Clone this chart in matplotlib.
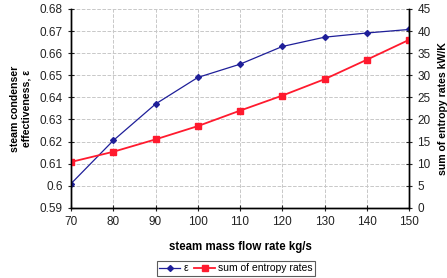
import matplotlib
matplotlib.use("Agg")
import matplotlib.pyplot as plt

plt.rcParams['font.family'] = ['Liberation Sans', 'DejaVu Sans']

# dane
flow = [70, 80, 90, 100, 110, 120, 130, 140, 150]
eff = [0.601, 0.6205, 0.637, 0.649, 0.655, 0.663, 0.6672, 0.6691, 0.6707]
entropy = [10.4, 12.7, 15.5, 18.5, 22.0, 25.4, 29.1, 33.5, 38.0]

fig = plt.figure(figsize=(4.47, 2.78), dpi=100)
ax = fig.add_axes([0.159, 0.252, 0.756, 0.716])
ax2 = ax.twinx()

l1, = ax.plot(flow, eff, color='#1f1f99', marker='D', markersize=3, lw=0.9, label='ε')
l2, = ax2.plot(flow, entropy, color='#ff1a2e', marker='s', markersize=5, lw=1.3,
               label='sum of entropy rates')

ax.set_xlim(70, 150)
ax.set_ylim(0.59, 0.68)
ax2.set_ylim(0, 45)
ax.set_xticks(range(70, 151, 10))
ax.set_yticks([0.59 + 0.01 * i for i in range(10)])
ax.set_yticklabels(['0.59', '0.6', '0.61', '0.62', '0.63', '0.64', '0.65', '0.66', '0.67', '0.68'])
ax2.set_yticks(range(0, 46, 5))

ax.grid(True, color='#c8c8c8', linestyle='--', linewidth=0.7)
for a in (ax, ax2):
    a.tick_params(labelsize=8.5, direction='inout', length=5, width=0.8, colors='#222222')
    for s in a.spines.values():
        s.set_linewidth(1.0)
ax.spines['top'].set_visible(False)
ax2.spines['top'].set_visible(False)

ax.set_xlabel('steam mass flow rate kg/s', fontsize=8.3, fontweight='bold', labelpad=9)
ax.set_ylabel('steam condenser\neffectiveness, ε', fontsize=7.6, fontweight='bold', labelpad=6)
ax2.set_ylabel('sum of entropy rates kW/K', fontsize=7.6, fontweight='bold', labelpad=5)

leg = fig.legend([l1, l2], ['ε', 'sum of entropy rates'], loc='center', ncol=2,
                 bbox_to_anchor=(0.528, 0.035), fontsize=7.5, frameon=True, fancybox=False,
                 edgecolor='#333333', handlelength=2.0, columnspacing=0.6, handletextpad=0.3,
                 borderpad=0.25)
leg.get_frame().set_linewidth(0.8)

fig.savefig('out.png', dpi=100)
